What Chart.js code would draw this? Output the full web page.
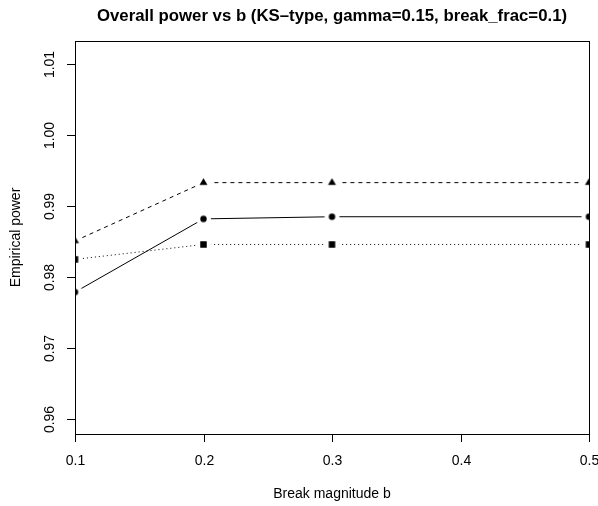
<!DOCTYPE html>
<html>
<head>
<meta charset="utf-8">
<script src="https://cdn.jsdelivr.net/npm/chart.js@4/dist/chart.umd.min.js"></script>
<style>
  html, body { margin: 0; padding: 0; background: #fff; }
  canvas { display: block; }
</style>
</head>
<body>
<canvas id="chart" width="598" height="506"></canvas>
<script>
const breakSizes = [0.1, 0.2, 0.3, 0.5];
const powerCircle = [0.9779, 0.9882, 0.9885, 0.9885];
const powerTriangle = [0.9851, 0.9933, 0.9933, 0.9933];
const powerSquare = [0.9825, 0.9846, 0.9846, 0.9846];
const xTicks = [0.1, 0.2, 0.3, 0.4, 0.5];
const yTicks = [0.96, 0.97, 0.98, 0.99, 1.0, 1.01];

const FONT = '"Liberation Sans", Arial, Helvetica, sans-serif';

// R type="b" look: a white disc under each marker leaves a gap in the line
function marker(shape) {
  const c = document.createElement("canvas");
  c.width = c.height = 17;
  const g = c.getContext("2d");
  g.fillStyle = "#fff";
  g.beginPath();
  g.arc(8.5, 8.5, 7.5, 0, Math.PI * 2);
  g.fill();
  g.fillStyle = "#000";
  g.beginPath();
  if (shape === "circle") {
    g.arc(8.5, 8.5, 3.2, 0, Math.PI * 2);
  } else if (shape === "square") {
    g.rect(5.25, 5.25, 6.5, 6.5);
  } else {
    g.moveTo(8.5, 3.9);
    g.lineTo(12.5, 10.8);
    g.lineTo(4.5, 10.8);
    g.closePath();
  }
  g.fill();
  return c;
}

const toPoints = (values) => values.map((v, i) => ({ x: breakSizes[i], y: v }));

const series = (values, shape, dash) => ({
  data: toPoints(values),
  borderColor: "#000",
  borderWidth: 1,
  borderDash: dash,
  pointStyle: marker(shape),
  pointRadius: 8,
  pointHoverRadius: 8,
  tension: 0,
  clip: 0,
});

const axesPlugin = {
  id: "rAxes",
  afterDraw(chart) {
    const { ctx, chartArea: a, scales } = chart;
    ctx.save();
    ctx.strokeStyle = "#000";
    ctx.lineWidth = 1;
    ctx.strokeRect(a.left + 0.5, a.top + 0.5, a.right - a.left, a.bottom - a.top);

    ctx.fillStyle = "#000";
    ctx.font = "14px " + FONT;
    ctx.textAlign = "center";
    ctx.textBaseline = "middle";

    xTicks.forEach((t) => {
      const x = Math.round(scales.x.getPixelForValue(t)) + 0.5;
      ctx.beginPath();
      ctx.moveTo(x, a.bottom);
      ctx.lineTo(x, a.bottom + 8);
      ctx.stroke();
      ctx.fillText(t.toFixed(1), x, a.bottom + 27);
    });

    yTicks.forEach((t) => {
      const y = Math.round(scales.y.getPixelForValue(t)) + 0.5;
      ctx.beginPath();
      ctx.moveTo(a.left - 8, y);
      ctx.lineTo(a.left, y);
      ctx.stroke();
      ctx.save();
      ctx.translate(a.left - 25, y);
      ctx.rotate(-Math.PI / 2);
      ctx.fillText(t.toFixed(2), 0, 0);
      ctx.restore();
    });

    const midX = (a.left + a.right) / 2;
    const midY = (a.top + a.bottom) / 2;
    ctx.fillText("Break magnitude b", midX, 494);

    ctx.save();
    ctx.translate(16, midY);
    ctx.rotate(-Math.PI / 2);
    ctx.fillText("Empirical power", 0, 0);
    ctx.restore();

    ctx.font = "bold 16.8px " + FONT;
    ctx.fillText("Overall power vs b (KS\u2013type, gamma=0.15, break_frac=0.1)", midX, 16);
    ctx.restore();
  },
};

new Chart(document.getElementById("chart"), {
  type: "line",
  data: {
    datasets: [
      series(powerCircle, "circle", []),
      series(powerTriangle, "triangle", [4, 4]),
      series(powerSquare, "square", [1, 3]),
    ],
  },
  options: {
    responsive: false,
    devicePixelRatio: 1,
    animation: false,
    layout: { padding: { left: 75, top: 41, right: 9, bottom: 72 } },
    scales: {
      x: { type: "linear", min: 0.1, max: 0.5, display: false },
      y: { type: "linear", min: 0.95793, max: 1.01323, display: false },
    },
    plugins: {
      legend: { display: false },
      tooltip: { enabled: false },
    },
  },
  plugins: [axesPlugin],
});
</script>
</body>
</html>
